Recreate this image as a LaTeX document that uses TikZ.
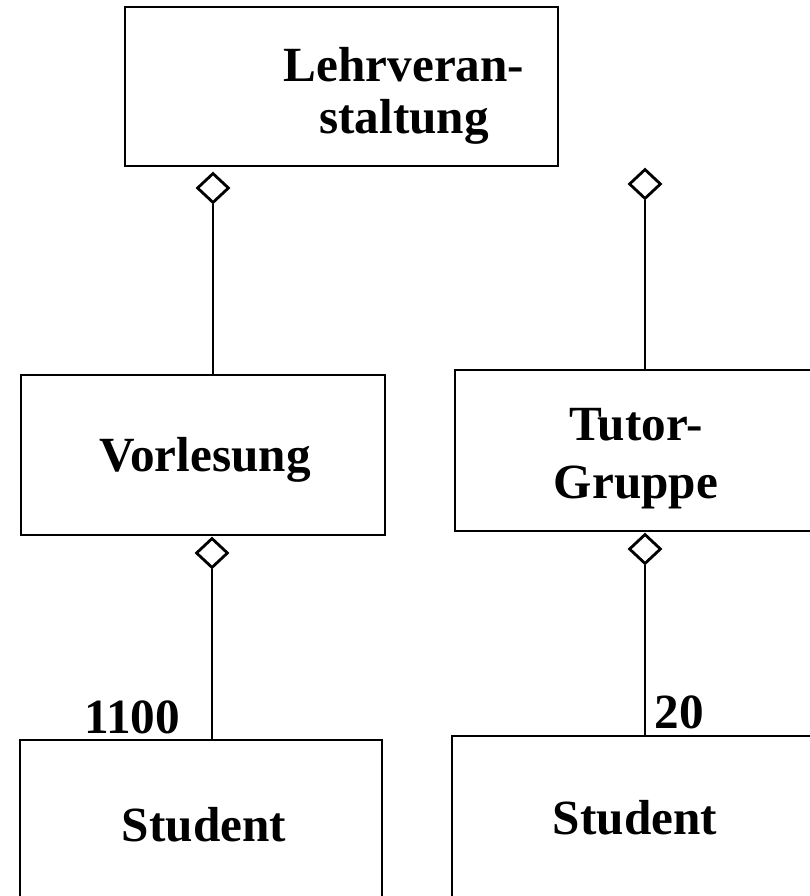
\documentclass[tikz,border=0pt]{standalone}
\usepackage{fontspec}
\setmainfont{Liberation Serif}
\usetikzlibrary{shapes.geometric}
\begin{document}
\begin{tikzpicture}[x=0.02cm,y=-0.02cm,
  cls/.style={draw,line width=1.6pt,inner sep=0,minimum width=#1},
  lbl/.style={font=\fontsize{28}{30}\selectfont\bfseries,align=center,inner sep=0},
  agg/.style={diamond,draw,line width=1.6pt,fill=white,inner sep=0,minimum width=0.64cm,minimum height=0.6cm},
  conn/.style={line width=1.3pt}]
\useasboundingbox (0,0) rectangle (809,896);

% classes
\node[cls=8.66cm,minimum height=3.18cm] (lv) at (341.5,86.5) {};
\node[cls=7.28cm,minimum height=3.2cm] (vl) at (203,455) {};
\node[cls=7.2cm,minimum height=3.22cm] (tg) at (635,450.5) {};
\node[cls=7.24cm,minimum height=3.3cm] (s1) at (201,822.5) {};
\node[cls=7.26cm,minimum height=3.38cm] (s2) at (633.5,820.5) {};

% class names
\node[lbl,font=\fontsize{28}{29.5}\selectfont\bfseries] (lvt) at (404,96) {Lehrveran-\\staltung};
\node[lbl] (vlt) at (205,460) {Vorlesung};
\node[lbl,font=\fontsize{28}{33}\selectfont\bfseries] (tgt) at (636,459) {Tutor-\\Gruppe};
\node[lbl] (s1t) at (204,825) {Student};
\node[lbl] (s2t) at (635,818) {Student};

% aggregation diamonds
\node[agg] (d1) at (213,188) {};
\node[agg] (d2) at (645,184) {};
\node[agg] (d3) at (212,553) {};
\node[agg] (d4) at (645,549) {};

% part links
\draw[conn] (d1.south) -- (d1.south |- vl.north);
\draw[conn] (d2.south) -- (d2.south |- tg.north);
\draw[conn] (d3.south) -- (d3.south |- s1.north);
\draw[conn] (d4.south) -- (d4.south |- s2.north);

% multiplicities
\node[lbl,anchor=base] (m1) at (132,733) {1100};
\node[lbl,anchor=base] (m2) at (679,728) {20};
\end{tikzpicture}
\end{document}
